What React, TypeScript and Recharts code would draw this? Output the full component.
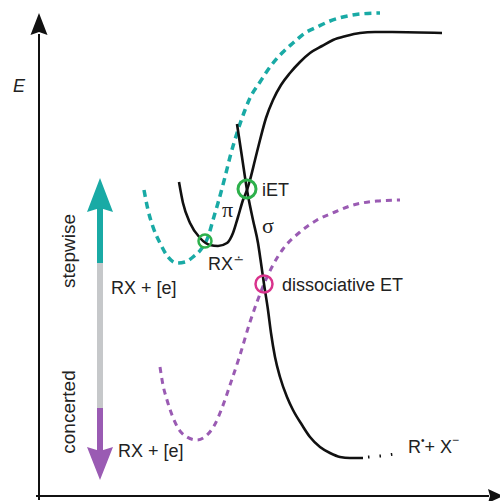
import React from 'react';
import { LineChart, Line, XAxis, YAxis, ReferenceLine, ReferenceDot } from 'recharts';

const TEAL = '#19aaa5';
const PURPLE = '#9a5bb3';
const GREEN = '#2db04b';
const MAGENTA = '#d9338c';
const GRAY = '#c6c8ca';
const INK = '#222';
const SANS = '"Liberation Sans", Arial, Helvetica, sans-serif';
const SERIF = '"Liberation Serif", "Times New Roman", serif';

// energy E against reaction coordinate x, arbitrary units
const piCurve = [
  { x: 141, E: 314 }, { x: 145, E: 293 }, { x: 152, E: 273 }, { x: 162, E: 258 },
  { x: 172, E: 251 }, { x: 180, E: 250 }, { x: 189, E: 253 }, { x: 195, E: 263 },
  { x: 200, E: 279 }, { x: 205, E: 296 }, { x: 209, E: 306 }, { x: 212, E: 316 },
  { x: 217, E: 336 }, { x: 222, E: 356 }, { x: 228, E: 378 }, { x: 235, E: 396 },
  { x: 243, E: 411 }, { x: 252, E: 423 }, { x: 262, E: 434 }, { x: 272, E: 443 },
  { x: 284, E: 450 }, { x: 295, E: 456 }, { x: 308, E: 460 }, { x: 322, E: 463 },
  { x: 337, E: 464 }, { x: 354, E: 464 }, { x: 404, E: 463 },
];

const sigmaCurve = [
  { x: 199, E: 372 }, { x: 204, E: 339 }, { x: 209, E: 306 }, { x: 215, E: 276 },
  { x: 220, E: 253 }, { x: 223, E: 233 }, { x: 226, E: 212 }, { x: 230, E: 186 },
  { x: 233, E: 163 }, { x: 237, E: 139 }, { x: 242, E: 119 }, { x: 249, E: 99 },
  { x: 255, E: 86 }, { x: 264, E: 71 }, { x: 272, E: 59 }, { x: 282, E: 49 },
  { x: 292, E: 43 }, { x: 302, E: 39 }, { x: 312, E: 38 }, { x: 325, E: 38 },
];

const sigmaTail = [{ x: 330, E: 39 }, { x: 343, E: 40 }, { x: 357, E: 42 }];

const stepwiseCurve = [
  { x: 106, E: 306 }, { x: 110, E: 286 }, { x: 115, E: 269 }, { x: 122, E: 253 },
  { x: 130, E: 239 }, { x: 139, E: 233 }, { x: 147, E: 234 }, { x: 155, E: 239 },
  { x: 164, E: 248 }, { x: 170, E: 259 }, { x: 175, E: 276 }, { x: 180, E: 293 },
  { x: 187, E: 319 }, { x: 192, E: 339 }, { x: 199, E: 363 }, { x: 207, E: 386 },
  { x: 212, E: 398 }, { x: 222, E: 414 }, { x: 232, E: 429 }, { x: 244, E: 443 },
  { x: 255, E: 453 }, { x: 267, E: 463 }, { x: 279, E: 469 }, { x: 292, E: 475 },
  { x: 305, E: 479 }, { x: 322, E: 482 }, { x: 342, E: 483 },
];

const concertedCurve = [
  { x: 122, E: 129 }, { x: 125, E: 111 }, { x: 129, E: 96 }, { x: 134, E: 81 },
  { x: 140, E: 68 }, { x: 149, E: 59 }, { x: 159, E: 56 }, { x: 168, E: 60 },
  { x: 176, E: 70 }, { x: 184, E: 88 }, { x: 192, E: 111 }, { x: 202, E: 141 },
  { x: 212, E: 174 }, { x: 219, E: 194 }, { x: 226, E: 212 }, { x: 235, E: 231 },
  { x: 245, E: 247 }, { x: 262, E: 264 }, { x: 279, E: 276 }, { x: 297, E: 284 },
  { x: 312, E: 290 }, { x: 339, E: 295 }, { x: 362, E: 296 },
];

const iET = { x: 209, E: 307 };
const radicalAnion = { x: 167, E: 255 };
const dissociativeET = { x: 226, E: 212 };

// stepwise / concerted scale arrow
const scaleX = 62;
const scaleTeal = [233, 288];
const scaleGray = [88, 233];
const scalePurple = [45, 88];
const scaleTop = 284;
const scaleBottom = 49;

const pos = {
  E: { x: -25, E: 404 },
  iET: { x: 224, E: 300 },
  pi: { x: 184, E: 279 },
  sigma: { x: 224, E: 263 },
  rx: { x: 170, E: 226 },
  rxUpper: { x: 73, E: 202 },
  diss: { x: 244, E: 205 },
  rxLower: { x: 80, E: 39 },
  products: { x: 370, E: 43 },
  stepwise: { x: 30, E: 245 },
  concerted: { x: 30, E: 84 },
};

const headUp = (w: number, h: number, notch: number, color: string) => (p: any) => (
  <polygon points={`${p.cx},${p.cy - h} ${p.cx + w},${p.cy} ${p.cx},${p.cy - notch} ${p.cx - w},${p.cy}`} fill={color} />
);
const headDown = (w: number, h: number, notch: number, color: string) => (p: any) => (
  <polygon points={`${p.cx},${p.cy + h} ${p.cx + w},${p.cy} ${p.cx},${p.cy + notch} ${p.cx - w},${p.cy}`} fill={color} />
);
const headRight = (w: number, h: number, notch: number, color: string) => (p: any) => (
  <polygon points={`${p.cx + h},${p.cy} ${p.cx},${p.cy + w} ${p.cx + notch},${p.cy} ${p.cx},${p.cy - w}`} fill={color} />
);

const txt = (content: React.ReactNode, extra: any = {}) => (p: any) => (
  <text x={p.cx} y={p.cy} fill={INK} fontFamily={SANS} fontSize={18} {...extra}>{content}</text>
);
const vtxt = (content: string) => (p: any) => (
  <text x={p.cx} y={p.cy} fill={INK} fontFamily={SANS} fontSize={19} textAnchor="middle"
    dominantBaseline="central" transform={`rotate(-90 ${p.cx} ${p.cy})`}>{content}</text>
);

const line = (data: any[], color: string, width: number, dash?: string, type: any = 'monotone') => (
  <Line data={data} dataKey="E" type={type} stroke={color} strokeWidth={width} strokeDasharray={dash}
    dot={false} activeDot={false} isAnimationActive={false} />
);

export default function App() {
  return (
    <div style={{ position: 'absolute', left: 0, top: 0, background: '#fff' }}>
      <LineChart width={500} height={501} margin={{ top: 0, right: 0, bottom: 0, left: 0 }}>
        <XAxis type="number" dataKey="x" domain={[-38, 462]} hide allowDataOverflow />
        <YAxis type="number" dataKey="E" domain={[-5, 496]} hide allowDataOverflow />

        <ReferenceLine segment={[{ x: 1, y: -4 }, { x: 1, y: 462 }]} stroke="#111" strokeWidth={2} />
        <ReferenceLine segment={[{ x: -2, y: 0 }, { x: 451, y: 0 }]} stroke="#111" strokeWidth={2} />
        <ReferenceDot x={1} y={461} r={0} shape={headUp(8.5, 22, 3, '#111')} />
        <ReferenceDot x={450} y={0} r={0} shape={headRight(7, 15, 2, '#111')} />

        <ReferenceLine segment={[{ x: scaleX, y: scaleTeal[0] }, { x: scaleX, y: scaleTeal[1] }]} stroke={TEAL} strokeWidth={6} />
        <ReferenceLine segment={[{ x: scaleX, y: scaleGray[0] }, { x: scaleX, y: scaleGray[1] }]} stroke={GRAY} strokeWidth={6} />
        <ReferenceLine segment={[{ x: scaleX, y: scalePurple[0] }, { x: scaleX, y: scalePurple[1] }]} stroke={PURPLE} strokeWidth={6} />
        <ReferenceDot x={scaleX} y={scaleTop} r={0} shape={headUp(13, 34, 4, TEAL)} />
        <ReferenceDot x={scaleX} y={scaleBottom} r={0} shape={headDown(13, 33, 4, PURPLE)} />

        {line(stepwiseCurve, TEAL, 3.5, '7 5')}
        {line(concertedCurve, PURPLE, 3, '6 5')}
        {line(piCurve, '#111', 2.6)}
        {line(sigmaCurve, '#111', 2.6)}
        {line(sigmaTail, '#111', 3, '1.5 10', 'linear')}

        <ReferenceDot x={iET.x} y={iET.E} r={9} fill="none" stroke={GREEN} strokeWidth={3} />
        <ReferenceDot x={radicalAnion.x} y={radicalAnion.E} r={6.5} fill="none" stroke={GREEN} strokeWidth={2.5} />
        <ReferenceDot x={dissociativeET.x} y={dissociativeET.E} r={8.5} fill="none" stroke={MAGENTA} strokeWidth={2.5} />

        <ReferenceDot x={pos.E.x} y={pos.E.E} r={0} shape={txt('E', { fontStyle: 'italic' })} />
        <ReferenceDot x={pos.iET.x} y={pos.iET.E} r={0} shape={txt('iET')} />
        <ReferenceDot x={pos.pi.x} y={pos.pi.E} r={0} shape={txt('π', { fontFamily: SERIF, fontSize: 22 })} />
        <ReferenceDot x={pos.sigma.x} y={pos.sigma.E} r={0} shape={txt('σ', { fontFamily: SERIF, fontSize: 22 })} />
        <ReferenceDot x={pos.rx.x} y={pos.rx.E} r={0} shape={txt(
          <>RX<tspan fontFamily='"DejaVu Sans", sans-serif' fontSize={13} dx={0.5} dy={-6}>∸</tspan></>
        )} />
        <ReferenceDot x={pos.rxUpper.x} y={pos.rxUpper.E} r={0} shape={txt('RX + [e]')} />
        <ReferenceDot x={pos.diss.x} y={pos.diss.E} r={0} shape={txt('dissociative ET')} />
        <ReferenceDot x={pos.rxLower.x} y={pos.rxLower.E} r={0} shape={txt('RX + [e]')} />
        <ReferenceDot x={pos.products.x} y={pos.products.E} r={0} shape={txt(
          <>R<tspan fontSize={10} dy={-9}>•</tspan><tspan dy={9}>+ X</tspan><tspan fontSize={12} dy={-9}>−</tspan></>
        )} />
        <ReferenceDot x={pos.stepwise.x} y={pos.stepwise.E} r={0} shape={vtxt('stepwise')} />
        <ReferenceDot x={pos.concerted.x} y={pos.concerted.E} r={0} shape={vtxt('concerted')} />
      </LineChart>
    </div>
  );
}
